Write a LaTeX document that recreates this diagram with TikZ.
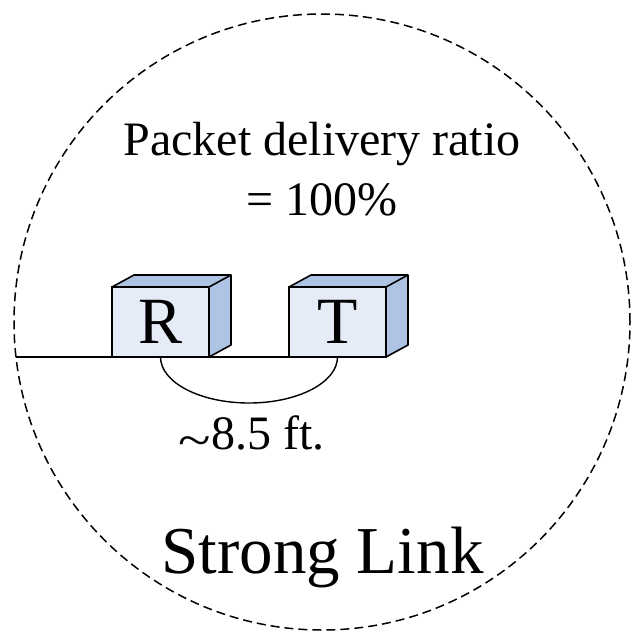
\documentclass[tikz,border=0pt]{standalone}
\usepackage{fontspec}
\setmainfont{Liberation Serif}
\definecolor{facefront}{HTML}{E5EBF7}
\definecolor{faceside}{HTML}{AFC4E4}
\begin{document}
\begin{tikzpicture}[x=1pt,y=-1pt,
  ring/.style={draw, circle, dashed, dash pattern=on 9pt off 5pt, line width=1.5pt,
               minimum size=616pt, inner sep=0pt, outer sep=0pt},
  boxfront/.style={draw, line width=1.6pt, fill=facefront, minimum width=97pt,
                   minimum height=70pt, inner sep=0pt, outer sep=0pt,
                   font=\fontsize{66}{70}\selectfont},
  boxside/.style={draw, line width=1.6pt, fill=faceside, line join=round},
  wire/.style={draw, line width=1.4pt},
  label/.style={anchor=base, inner sep=0pt}
]
\useasboundingbox (0,0) rectangle (631,633);

% dashed coverage circle
\node[ring] (ring) at (322,322) {};

% invisible placeholders fixing the front faces of both boxes
\node[boxfront, draw=none, fill=none] (Rpos) at (160.5,322) {};
\node[boxfront, draw=none, fill=none] (Tpos) at (337.5,322) {};

% ground line from the circle edge to the boxes
\coordinate (start) at (ring.186.5 |- Tpos.south);
\draw[wire] (start) -- (Tpos.south west);

% receiver box
\path[boxside] (Rpos.north west) -- ++(22,-12) -- ++(97,0) -- ++(0,70) -- (Rpos.south east) -- (Rpos.north east) -- cycle;
\draw[line width=1.6pt] (Rpos.north east) -- ++(22,-12);
\node[boxfront] (R) at (160.5,322) {R};

% transmitter box
\path[boxside] (Tpos.north west) -- ++(22,-12) -- ++(97,0) -- ++(0,70) -- (Tpos.south east) -- (Tpos.north east) -- cycle;
\draw[line width=1.6pt] (Tpos.north east) -- ++(22,-12);
\node[boxfront] (T) at (337.5,322) {T};

% distance arc between the two boxes
\draw[line width=1.4pt] (R.south) arc[start angle=180, end angle=0, x radius=88.5, y radius=46];

% labels
\node[label, font=\fontsize{48}{56}\selectfont] (pdr) at (322,155) {Packet delivery ratio};
\node[label, font=\fontsize{48}{56}\selectfont] (val) at (322,215) {= 100\%};
\node[label, font=\fontsize{48}{56}\selectfont] (dist) at (251.5,449)
  {\raisebox{-7pt}{\scalebox{1.25}[1]{\textasciitilde}}8.5 ft.};
\node[label, font=\fontsize{67}{72}\selectfont] (title) at (322.5,573) {Strong Link};
\end{tikzpicture}
\end{document}
